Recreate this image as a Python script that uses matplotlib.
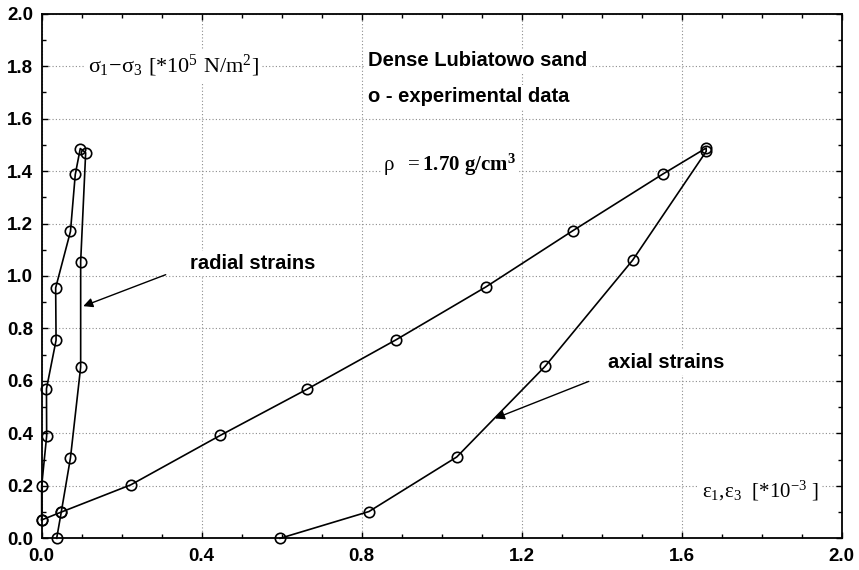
import numpy as np
import matplotlib
matplotlib.use("Agg")
import matplotlib.pyplot as plt
from matplotlib.ticker import MultipleLocator, FormatStrFormatter

plt.rcParams['font.family'] = ['Liberation Sans', 'DejaVu Sans']
plt.rcParams['mathtext.fontset'] = 'custom'
plt.rcParams['mathtext.rm'] = 'Liberation Serif'
plt.rcParams['mathtext.it'] = 'Liberation Serif'
plt.rcParams['mathtext.bf'] = 'Liberation Serif:bold'

# ---- data ----
# radial strains (eps_3), loading then unloading
radial_eps = [0.0, 0.0, 0.0125, 0.012, 0.036, 0.035, 0.072, 0.084, 0.0965,
              0.11, 0.0975, 0.0975, 0.072, 0.049, 0.0375]
radial_sig = [0.07, 0.20, 0.39, 0.57, 0.755, 0.955, 1.17, 1.387, 1.486,
              1.47, 1.055, 0.653, 0.307, 0.10, 0.0]

# axial strains (eps_1), loading then unloading
axial_eps = [0.0, 0.049, 0.223, 0.446, 0.664, 0.886, 1.11, 1.327, 1.552,
             1.661, 1.661, 1.477, 1.258, 1.0375, 0.818, 0.596]
axial_sig = [0.07, 0.10, 0.204, 0.392, 0.569, 0.757, 0.958, 1.172, 1.388,
             1.488, 1.475, 1.06, 0.655, 0.31, 0.102, 0.0]

fsize_tick = 13.5
fsize_txt = 14.5
fsize_ser = 16
lw = 1.2
box = dict(facecolor='white', edgecolor='none', pad=2.0)

fig = plt.figure(figsize=(8.59, 5.70), dpi=100)
ax = fig.add_axes([0.0485, 0.0556, 0.9315, 0.9204])

for xs, ys in [(radial_eps, radial_sig), (axial_eps, axial_sig)]:
    ax.plot(xs, ys, 'k-', lw=lw, marker='o', ms=7.5, mfc='none',
            mec='k', mew=1.2, clip_on=False, zorder=3)

ax.set_xlim(0.0, 2.0)
ax.set_ylim(0.0, 2.0)
ax.xaxis.set_major_locator(MultipleLocator(0.4))
ax.xaxis.set_minor_locator(MultipleLocator(0.1))
ax.yaxis.set_major_locator(MultipleLocator(0.2))
ax.yaxis.set_minor_locator(MultipleLocator(0.1))
ax.xaxis.set_major_formatter(FormatStrFormatter('%.1f'))
ax.yaxis.set_major_formatter(FormatStrFormatter('%.1f'))
ax.tick_params(which='both', direction='in', top=True, right=True,
               labelsize=fsize_tick, width=1.0)
ax.tick_params(which='major', length=4)
ax.tick_params(which='minor', length=3)
ax.tick_params(axis='x', which='major', pad=7)
ax.tick_params(axis='y', which='major', pad=6)
for lab in ax.get_xticklabels() + ax.get_yticklabels():
    lab.set_fontweight('bold')
for sp in ax.spines.values():
    sp.set_linewidth(1.3)
ax.grid(True, which='major', color='0.55', linestyle=(0, (1, 2)), lw=0.8)
ax.set_axisbelow(True)

ax.text(0.115, 1.80, r'$\sigma_1\!-\!\sigma_3\ [*10^5\ \mathrm{N/m^2}]$',
        fontsize=fsize_ser, va='center', ha='left', bbox=box)
ax.text(0.815, 1.82, 'Dense Lubiatowo sand', fontsize=fsize_txt,
        fontweight='bold', va='center', ha='left', bbox=box)
ax.text(0.815, 1.683, 'o - experimental data', fontsize=fsize_txt,
        fontweight='bold', va='center', ha='left', bbox=box)
ax.text(0.854, 1.425, r'$\rho\ \ = \mathbf{1.70\ g/cm^3}$', fontsize=15,
        va='center', ha='left', bbox=box)
ax.text(1.65, 0.18, r'$\varepsilon_1,\!\varepsilon_3\ \ [*10^{-3}\ ]$',
        fontsize=15, va='center', ha='left', bbox=box)

ax.text(0.37, 1.047, 'radial strains', fontsize=fsize_txt,
        fontweight='bold', va='center', ha='left', bbox=box)
ax.annotate('', xy=(0.104, 0.885), xytext=(0.31, 1.005),
            arrowprops=dict(arrowstyle='-|>', color='k', lw=1.0,
                            shrinkA=0, shrinkB=0, mutation_scale=14))
ax.text(1.416, 0.67, 'axial strains', fontsize=fsize_txt,
        fontweight='bold', va='center', ha='left', bbox=box)
ax.annotate('', xy=(1.133, 0.457), xytext=(1.367, 0.598),
            arrowprops=dict(arrowstyle='-|>', color='k', lw=1.0,
                            shrinkA=0, shrinkB=0, mutation_scale=14))

plt.savefig('out.png', dpi=100)
